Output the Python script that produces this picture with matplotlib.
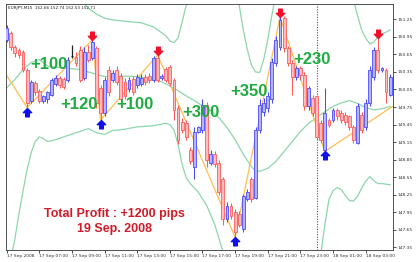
import matplotlib
matplotlib.use('Agg')
import matplotlib.pyplot as plt
from matplotlib.path import Path
import numpy as np

# ---------------- data (EURJPY M15, 17 Sep 05:00 .. 18 Sep 04:30) ----------------
opens = [150.90, 151.02, 150.78, 150.73, 150.69, 150.39, 149.86, 150.16, 150.03, 149.86,
         149.88, 149.96, 150.15, 150.25, 150.23, 150.22, 150.63, 150.61, 150.73, 150.25,
         150.69, 150.59, 150.76, 150.08, 149.65, 150.39, 150.22, 150.39, 150.28, 150.18,
         150.05, 150.23, 150.13, 150.15, 150.27, 150.28, 150.22, 150.59, 150.25, 150.40,
         150.44, 150.22, 149.74, 149.50, 149.47, 149.02, 148.73, 149.33, 149.36, 149.79,
         148.80, 148.94, 148.80, 148.51, 147.83, 148.05, 147.95, 147.92, 147.66, 148.17,
         148.51, 148.20, 149.36, 149.67, 149.74, 149.88, 150.51, 150.78, 151.27, 150.76,
         150.51, 150.27, 150.42, 150.30, 149.76, 149.91, 149.93, 149.48, 149.02, 149.53,
         149.53, 149.70, 149.65, 149.62, 149.59, 149.41, 149.14, 149.62, 149.40, 149.82,
         150.27, 150.73, 150.39, 150.39, 149.96]
closes = [151.10, 150.78, 150.68, 150.64, 150.39, 149.82, 150.18, 150.01, 149.86, 149.93,
          150.00, 150.22, 150.25, 150.13, 150.10, 150.56, 150.63, 150.51, 150.22, 150.69,
          150.56, 150.86, 149.82, 149.65, 150.22, 150.00, 150.34, 150.18, 149.88, 149.94,
          150.22, 150.01, 150.27, 150.25, 150.18, 150.22, 150.59, 150.22, 150.28, 150.22,
          150.16, 149.70, 149.19, 149.36, 149.24, 148.82, 149.33, 149.40, 149.79, 148.85,
          148.94, 148.77, 148.29, 147.83, 148.05, 147.88, 147.61, 147.74, 148.22, 148.29,
          148.17, 149.36, 149.79, 149.82, 149.93, 150.52, 150.90, 151.24, 150.76, 150.51,
          150.27, 150.42, 150.30, 149.76, 150.08, 149.65, 149.24, 149.19, 149.65, 149.45,
          149.70, 149.59, 149.53, 149.50, 149.41, 149.19, 149.76, 149.36, 149.82, 150.39,
          150.73, 150.39, 150.42, 150.00, 150.27]
highs = [151.15, 151.05, 150.81, 150.76, 150.73, 150.42, 150.22, 150.20, 150.06, 149.96,
         150.03, 150.25, 150.30, 150.28, 150.27, 150.61, 150.81, 150.69, 150.80, 150.78,
         150.81, 150.90, 150.80, 150.13, 150.27, 150.45, 150.39, 150.45, 150.34, 150.25,
         150.27, 150.28, 150.32, 150.32, 150.32, 150.34, 150.63, 150.64, 150.32, 150.44,
         150.47, 150.25, 149.79, 149.57, 149.53, 149.07, 149.40, 149.43, 149.88, 149.84,
         149.02, 148.99, 148.85, 148.56, 148.12, 148.10, 148.00, 147.97, 148.27, 148.34,
         148.56, 149.40, 149.88, 149.91, 150.01, 150.59, 150.97, 151.29, 151.31, 150.80,
         150.56, 150.45, 150.45, 150.35, 150.11, 149.96, 149.96, 149.53, 150.08, 149.57,
         149.74, 149.74, 149.70, 149.67, 149.62, 149.45, 149.81, 149.67, 149.88, 150.45,
         150.78, 150.93, 150.44, 150.42, 150.32]
lows = [150.86, 150.73, 150.61, 150.59, 150.35, 149.74, 149.81, 149.96, 149.81, 149.81,
        149.82, 149.93, 150.11, 150.08, 150.05, 150.18, 150.59, 150.45, 150.18, 150.22,
        150.52, 150.56, 149.74, 149.53, 149.60, 149.94, 150.18, 150.13, 149.82, 149.89,
        150.00, 149.96, 150.08, 150.11, 150.13, 150.16, 150.18, 150.18, 150.22, 150.18,
        150.11, 149.53, 149.11, 149.30, 149.19, 148.77, 148.51, 149.30, 149.31, 148.72,
        148.75, 148.72, 148.24, 147.74, 147.78, 147.83, 147.52, 147.69, 147.61, 148.14,
        148.12, 148.17, 149.31, 149.60, 149.67, 149.82, 150.45, 150.73, 150.69, 150.45,
        149.96, 150.22, 150.22, 149.70, 149.70, 149.59, 149.19, 149.14, 148.99, 149.40,
        149.50, 149.53, 149.48, 149.45, 149.36, 149.14, 149.11, 149.31, 149.35, 149.77,
        150.22, 150.34, 150.35, 149.82, 149.93]

x_tick_bars = [0, 8, 16, 24, 32, 40, 48, 56, 64, 72, 80, 88]
x_tick_labels = ['17 Sep 2008', '17 Sep 07:00', '17 Sep 09:00', '17 Sep 11:00',
                 '17 Sep 13:00', '17 Sep 15:00', '17 Sep 17:00', '17 Sep 19:00',
                 '17 Sep 21:00', '17 Sep 23:00', '18 Sep 01:00', '18 Sep 03:00']
y_ticks = [151.25, 150.95, 150.65, 150.35, 150.05, 149.75, 149.45, 149.15,
           148.85, 148.55, 148.25, 147.95, 147.65, 147.35]
day_separator_bar = 76

buy_arrow_bars = [5, 23, 56, 78]
sell_arrow_bars = [21, 37, 67, 91]

zz_bars = [-1, 5, 21, 23, 37, 56, 67, 78, 95]
zz_prices = [150.40, 149.74, 150.90, 149.53, 150.64, 147.52, 151.29, 148.99, 149.78]

bb_up_bars = [0, 10, 17, 19, 20, 22, 24, 26, 30, 33, 36, 39, 40, 41, 42, 43, 44, 45, 47,
              50, 54, 56, 57, 58, 59, 60, 61, 62, 63, 64, 65, 66, 70, 80, 84, 85, 86,
              87, 88, 89, 90, 91, 92, 93, 94]
bb_up = [151.90, 151.80, 151.60, 151.52, 151.44, 151.34, 151.27, 151.24, 151.21, 151.19,
         151.12, 150.97, 150.88, 150.85, 150.93, 151.20, 151.49, 151.67, 151.60,
         151.80, 151.80, 151.67, 151.49, 151.07, 150.73, 150.47, 150.35, 150.34, 150.56,
         150.90, 151.32, 151.67, 152.00, 152.00, 151.75, 151.58, 151.32,
         151.07, 150.93, 150.83, 150.86, 150.95, 151.00, 151.03, 151.07]
bb_mid_bars = [0, 2, 4, 6, 8, 10, 14, 18, 20, 24, 28, 32, 36, 38, 40, 42, 44, 46, 48, 50,
               52, 54, 56, 58, 60, 61, 62, 64, 66, 68, 70, 72, 74, 76, 78, 80, 82, 84,
               86, 88, 90, 92, 94]
bb_mid = [150.08, 150.22, 150.39, 150.51, 150.56, 150.45, 150.42, 150.39, 150.35, 150.27,
          150.28, 150.27, 150.23, 150.18, 150.11, 150.03, 149.94, 149.86, 149.77, 149.69,
          149.57, 149.40, 149.19, 148.94, 148.73, 148.66, 148.65, 148.70, 148.82, 148.99,
          149.16, 149.33, 149.47, 149.57, 149.67, 149.76, 149.82, 149.86,
          149.81, 149.74, 149.70, 149.72, 149.76]
bb_lo_bars = [0, 1, 2, 3, 4, 5, 6, 7, 8, 9, 10, 12, 14, 17, 20, 22, 24, 26, 28, 32, 36,
              39, 40, 41, 42, 43, 44, 45, 47, 49, 51, 53, 55, 60, 65, 70, 74, 76, 77,
              78, 79, 80, 81, 82, 83, 84, 85, 86, 87, 88, 89, 90, 91, 92, 94]
bb_lo = [146.80, 147.15, 147.49, 147.92, 148.31, 148.68, 148.97, 149.16, 149.24, 149.21,
         149.16, 149.19, 149.24, 149.31, 149.38, 149.31, 149.28, 149.35, 149.36, 149.41,
         149.43, 149.47, 149.45, 149.36, 149.11, 148.77, 148.54, 148.44, 148.29, 148.07,
         147.74, 147.28, 146.81, 146.30, 146.00, 146.20, 146.70, 147.00, 147.23,
         147.74, 148.17, 148.32, 148.37, 148.34, 148.24, 148.15, 148.14, 148.22, 148.36,
         148.48, 148.56, 148.49, 148.44, 148.44, 148.42]

profit_labels = ['+100', '+120', '+100', '+300', '+350', '+230']

# ---------------- figure ----------------
W, H = 416, 262
fig = plt.figure(figsize=(W / 100, H / 100), dpi=100)
ax = fig.add_axes([6 / W, (H - 250) / H, (393 - 6) / W, (250 - 4) / H])
ax.set_xlim(-0.17, 94.7)
ax.set_ylim(147.304, 151.512)

UP_EDGE, UP_FILL = '#4a4aff', '#b4b4ff'
DN_EDGE, DN_FILL = '#ff5a5a', '#ffbcbc'

o = np.array(opens); c = np.array(closes); h = np.array(highs); l = np.array(lows)
idx = np.arange(len(o))
up = c > o
dn = c < o
eq = c == o

for mask, edge, fill in ((up, UP_EDGE, UP_FILL), (dn, DN_EDGE, DN_FILL)):
    ax.vlines(idx[mask], l[mask], h[mask], color=edge, lw=0.75, zorder=3)
    bottom = np.minimum(o, c)[mask]
    height = np.abs(c - o)[mask]
    ax.bar(idx[mask], height, bottom=bottom, width=0.7, color=fill,
           edgecolor=edge, linewidth=0.6, zorder=4)
ax.vlines(idx[eq], l[eq], h[eq], color='#202020', lw=0.9, zorder=3)
ax.hlines(o[eq], idx[eq] - 0.34, idx[eq] + 0.34, color='#202020', lw=0.9, zorder=4)

# Bollinger bands
BB = '#8ed6ab'
ax.plot(bb_up_bars, bb_up, color=BB, lw=0.9, zorder=2)
ax.plot(bb_mid_bars, bb_mid, color=BB, lw=0.9, zorder=2)
ax.plot(bb_lo_bars, bb_lo, color=BB, lw=0.9, zorder=2)

# ZigZag
ax.plot(zz_bars, zz_prices, color='#ffbe50', lw=0.9, zorder=2.5)

# day separator
ax.axvline(day_separator_bar, color='#555555', lw=0.8, ls=(0, (1, 1.3)), zorder=1)

# arrows (tip at the anchor point)
down_arrow = Path([(0, 0), (0.5, 0.5), (0.22, 0.5), (0.22, 1.0), (-0.22, 1.0),
                   (-0.22, 0.5), (-0.5, 0.5), (0, 0)],
                  [Path.MOVETO] + [Path.LINETO] * 6 + [Path.CLOSEPOLY])
up_arrow = Path([(0, 0), (0.5, -0.5), (0.22, -0.5), (0.22, -1.0), (-0.22, -1.0),
                 (-0.22, -0.5), (-0.5, -0.5), (0, 0)],
                [Path.MOVETO] + [Path.LINETO] * 6 + [Path.CLOSEPOLY])
ax.plot(sell_arrow_bars, [h[i] for i in sell_arrow_bars], ls='none', marker=down_arrow,
        ms=12, color='#f0102a', mec='#f0102a', zorder=6)
ax.plot(buy_arrow_bars, [l[i] for i in buy_arrow_bars], ls='none', marker=up_arrow,
        ms=12, color='#1010e8', mec='#1010e8', zorder=6)

# profit labels
GREEN = '#1eac40'
label_pos = [(10.4, 150.47), (17.7, 149.80), (31.4, 149.80), (47.7, 149.66),
             (59.4, 150.01), (74.8, 150.57)]
for txt, (px, py) in zip(profit_labels, label_pos):
    ax.text(px, py, txt, color=GREEN, fontsize=12, fontweight='bold',
            family='Liberation Sans', ha='center', va='center', zorder=7)

RED = '#d01c2a'
fig.text(114 / W, 1 - 214 / H, 'Total Profit : +1200 pips', color=RED, fontsize=9,
         fontweight='bold', family='Liberation Sans', ha='center', va='center')
fig.text(114.5 / W, 1 - 229 / H, '19 Sep. 2008', color=RED, fontsize=9,
         fontweight='bold', family='Liberation Sans', ha='center', va='center')

fig.text(8 / W, 1 - 8 / H, 'EURJPY,M15  152.66 152.74 152.53 152.71', fontsize=3.0,
         color='#202020', ha='left', va='center')

# axes styling
for s in ax.spines.values():
    s.set_color('#505050')
    s.set_linewidth(0.7)
ax.yaxis.tick_right()
ax.set_yticks(y_ticks)
ax.set_yticklabels([f'{v:.2f}' for v in y_ticks])
ax.set_xticks(x_tick_bars)
ax.set_xticklabels(x_tick_labels, ha='left')
ax.tick_params(axis='y', which='both', length=2, width=0.6, pad=1.5, labelsize=3.2,
               colors='#303030', right=True, left=False)
ax.tick_params(axis='x', which='both', length=2, width=0.6, pad=1.2, labelsize=3.2,
               colors='#303030')

fig.savefig('out.png', dpi=100, facecolor='white')
